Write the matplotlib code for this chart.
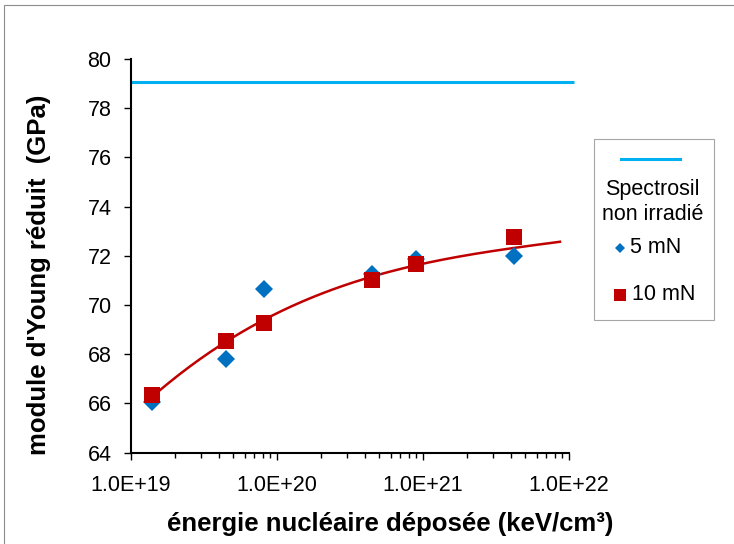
import matplotlib
matplotlib.use("Agg")
import matplotlib.pyplot as plt
from matplotlib.lines import Line2D
from matplotlib.patches import Rectangle
import numpy as np

plt.rcParams['font.family'] = ['Liberation Sans', 'DejaVu Sans']

# ---- data ----
energy = [1.4e19, 4.5e19, 8.2e19, 4.5e20, 9.0e20, 4.2e21]
young_5mN = [66.05, 67.79, 70.67, 71.25, 71.88, 71.99]
young_10mN = [66.35, 68.53, 69.29, 71.0, 71.68, 72.77]
reference_value = 79.05   # Spectrosil non irradié
ref_x = [1.0e19, 1.08e22]
# trend curve, points
fit_x = [1.41e19, 1.58e19, 2.51e19, 4.52e19, 8.28e19, 1.44e20, 2.07e20,
         3.52e20, 4.52e20, 7.73e20, 1.31e21, 2.45e21, 4.27e21, 8.67e21]
fit_y = [66.30, 66.47, 67.55, 68.60, 69.42, 70.05, 70.45,
         70.95, 71.17, 71.55, 71.85, 72.12, 72.33, 72.56]
yticks = [64, 66, 68, 70, 72, 74, 76, 78, 80]
xticks = [1e19, 1e20, 1e21, 1e22]
xticklabels = ['1.0E+19', '1.0E+20', '1.0E+21', '1.0E+22']

W, H = 734, 544
fig = plt.figure(figsize=(W / 100, H / 100), dpi=100)

def fx(px):
    return px / W

def fy(py):
    return 1 - py / H

ax = fig.add_axes([fx(131), fy(452.7), (569 - 131) / W, (452.7 - 59) / H])

BLUE_LINE = '#00B0F0'
BLUE = '#0070C0'
RED = '#C00000'

# smooth trendline through the read curve points (least squares in log10 x)
lx = np.log10(fit_x)
coef = np.polyfit(lx, fit_y, 3)
lgrid = np.linspace(lx[0], lx[-1], 200)
trend_x = 10 ** lgrid
trend_y = np.polyval(coef, lgrid)

ax.plot(ref_x, [reference_value] * 2, color=BLUE_LINE, lw=2.2, clip_on=False,
        solid_capstyle='butt', zorder=2)
ax.plot(trend_x, trend_y, color=RED, lw=1.8, zorder=2)
ax.plot(energy, young_5mN, linestyle='none', marker='D', ms=8.8,
        color=BLUE, mec=BLUE, mew=0, zorder=3)
ax.plot(energy, young_10mN, linestyle='none', marker='s', ms=12.2,
        color=RED, mec=RED, mew=0, zorder=4)

ax.set_xscale('log')
ax.set_xlim(1e19, 1e22)
ax.set_ylim(64, 80)
ax.set_yticks(yticks)
ax.set_yticklabels([str(v) for v in yticks])
ax.set_xticks(xticks)
ax.set_xticklabels(xticklabels)

for s in ['top', 'right']:
    ax.spines[s].set_visible(False)
for s in ['left', 'bottom']:
    ax.spines[s].set_linewidth(1.5)
    ax.spines[s].set_color('black')

ax.tick_params(axis='y', direction='out', length=5, width=1.0, pad=9,
               labelsize=15.5, colors='black')
ax.tick_params(axis='x', which='major', direction='out', length=5, width=1.0,
               pad=11, labelsize=15.5, colors='black')
ax.tick_params(axis='x', which='minor', direction='out', length=3.5, width=1.0)

fig.text(fx(390), fy(524), "énergie nucléaire déposée (keV/cm³)",
         ha='center', va='center', fontsize=18.5, fontweight='bold')
fig.text(fx(39), fy(275), "module d'Young réduit  (GPa)",
         ha='center', va='center', rotation=90, fontsize=18.5, fontweight='bold')

# outer chart border
fig.patches.append(Rectangle((fx(4), fy(560)), fx(760), (560 - 4.7) / H,
                             transform=fig.transFigure, fill=False,
                             edgecolor='#8C8C8C', lw=0.8))

# legend box
fig.patches.append(Rectangle((fx(594), fy(320)), fx(714 - 594), (320 - 139.3) / H,
                             transform=fig.transFigure, fill=True,
                             facecolor='white', edgecolor='#A6A6A6', lw=0.8))
fig.lines.append(Line2D([fx(621), fx(680)], [fy(159.3), fy(159.3)],
                        transform=fig.transFigure, color=BLUE_LINE, lw=2.2))
fig.text(fx(652.5), fy(189), "Spectrosil", ha='center', va='center', fontsize=15.5)
fig.text(fx(652.5), fy(214.5), "non irradié", ha='center', va='center', fontsize=15.5)
fig.lines.append(Line2D([fx(620)], [fy(248.3)], transform=fig.transFigure,
                        marker='D', ms=5.1, color=BLUE, mew=0, linestyle='none'))
fig.text(fx(630.5), fy(248), "5 mN", ha='left', va='center', fontsize=15.5)
fig.lines.append(Line2D([fx(620)], [fy(295.3)], transform=fig.transFigure,
                        marker='s', ms=8.1, color=RED, mew=0, linestyle='none'))
fig.text(fx(631.5), fy(295), "10 mN", ha='left', va='center', fontsize=15.5)

fig.savefig('out.png', dpi=100)
